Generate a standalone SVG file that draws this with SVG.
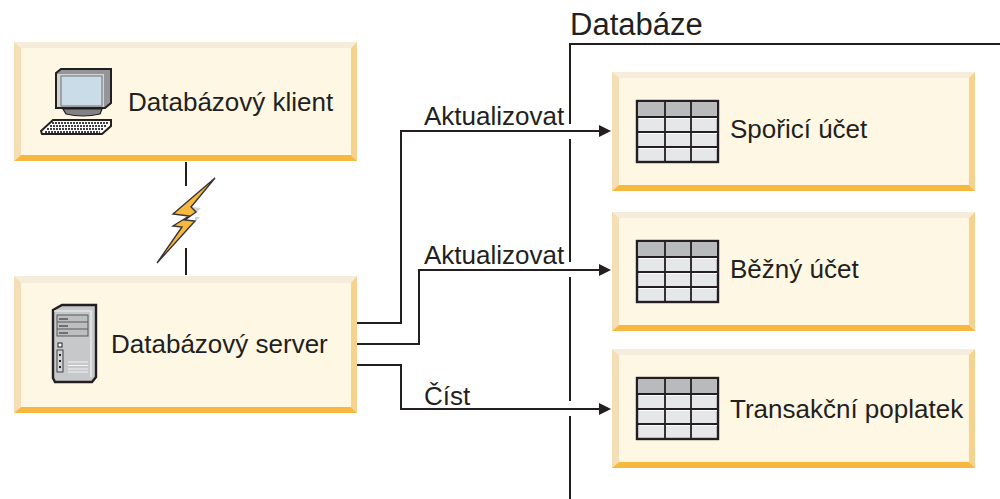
<svg xmlns="http://www.w3.org/2000/svg" xmlns:xlink="http://www.w3.org/1999/xlink" width="1000" height="499" viewBox="0 0 1000 499">
<style>
text{font-family:"Liberation Sans",Arial,sans-serif;font-size:26px;fill:#231f20}
.face{fill:#fef7e4}.top{fill:#f5ecdb}.left{fill:#f5deb5}.right{fill:#f7d28d}.bottom{fill:#f6b83f}
.line{fill:none;stroke:#231f20;stroke-width:2}
</style>
<defs>
<marker id="arrow" markerUnits="userSpaceOnUse" markerWidth="12" markerHeight="14" refX="0" refY="7" orient="auto"><path d="M0 1L12 7L0 13Z" fill="#231f20"/></marker>
<g id="table">
<rect x="0" y="0" width="81" height="61" fill="#e6e7e8" stroke="#231f20" stroke-width="2.400"/>
<rect x="1.500" y="1.500" width="78" height="14" fill="#b9babc"/>
<path d="M2 17.500H80M2 32.500H80M2 47.500H80" stroke="#fff" stroke-width="1" fill="none"/>
<path d="M1 16H80M1 31H80M1 46H80M28 1V60M54 1V60" stroke="#231f20" stroke-width="1.800" fill="none"/>
</g>
</defs>

<g id="connectors">
<path class="line" d="M186 162V186M186 248V275"/>
<path class="line" d="M1000 44H570V124M570 139V262M570 277V401M570 416V499"/>
<path class="line" marker-end="url(#arrow)" d="M357 323H401V131H599"/>
<path class="line" marker-end="url(#arrow)" d="M357 344H419V270H599"/>
<path class="line" marker-end="url(#arrow)" d="M357 365H401V409H599"/>
<g id="bolt">
<path d="M192 207L201 208L196 213ZM195 217L200 217L195 222Z" fill="#d1d3d4"/>
<path d="M215 178L173 214L189 216L173 226L182 227L157 263L195 221L185 220L196 212L191 207Z" fill="#f6b83f" stroke="#3a3637" stroke-width="1.400" stroke-linejoin="miter"/>
</g>
</g>

<g id="client">
<rect class="face" x="14" y="42" width="343" height="119"/>
<path class="top" d="M14 42H357L351 48H21Z"/><path class="left" d="M14 42L21 48V155L14 161Z"/><path class="right" d="M357 42L351 48V155L357 161Z"/><path class="bottom" d="M14 161L21 155H351L357 161Z"/>
<g id="computer">
<path d="M56 73L61 69H111V103L105 108H56Z" fill="#939598" stroke="#231f20" stroke-width="2"/>
<path d="M57 74H104V107H57Z" fill="#d1d3d4"/>
<rect x="61" y="76" width="41" height="30" fill="#c9dce8" stroke="#6d6e71" stroke-width="1"/>
<path d="M63 109H102L100 114Q83 118 66 114Z" fill="#808285" stroke="#231f20" stroke-width="1.200"/>
<path d="M53 120H111V126L102 134H42L41 131Z" fill="#fff" stroke="#231f20" stroke-width="2"/>
<path d="M52 123H108M50 126H106M47 129H103M45 132H100" stroke="#414042" stroke-width="2" stroke-dasharray="2 1" fill="none"/>
</g>
<text x="128" y="111">Databázový klient</text>
</g>

<g id="server">
<rect class="face" x="14" y="276" width="343" height="137"/>
<path class="top" d="M14 276H357L351 283H21Z"/><path class="left" d="M14 276L21 283V407L14 413Z"/><path class="right" d="M357 276L351 283V407L357 413Z"/><path class="bottom" d="M14 413L21 407H351L357 413Z"/>
<g id="tower">
<path d="M53 310L62 305H96V377L92 382H55L53 378Z" fill="#c7c8ca" stroke="#231f20" stroke-width="2.400"/>
<path d="M54 311H91V377" fill="none" stroke="#f1f2f2" stroke-width="1.200"/>
<rect x="57" y="315" width="31" height="21" fill="#bcbec0" stroke="#58595b"/>
<path d="M57 322H88M57 329H88" stroke="#58595b" stroke-width="1.200"/>
<path d="M59 319H68M59 326H68M59 333H68" stroke="#231f20" stroke-width="1"/>
<rect x="58" y="343" width="4" height="4" fill="#fff" stroke="#231f20"/>
<rect x="57" y="350" width="6" height="22" fill="#d1d3d4" stroke="#414042"/>
<path d="M59 355H61M59 361H61M59 367H61" stroke="#231f20" stroke-width="2"/>
<path d="M68 362H88M68 365.500H88M68 369H88M68 372H88" stroke="#f1f2f2" stroke-width="1"/>
</g>
<text x="111" y="353">Databázový server</text>
</g>

<g id="ucet1">
<rect class="face" x="612" y="72" width="363" height="119"/>
<path class="top" d="M612 72H975L969 78H619Z"/><path class="left" d="M612 72L619 78V185L612 191Z"/><path class="right" d="M975 72L969 78V185L975 191Z"/><path class="bottom" d="M612 191L619 185H969L975 191Z"/>
<use xlink:href="#table" href="#table" x="637" y="101"/>
<text x="730" y="138">Spořicí účet</text>
</g>

<g id="ucet2">
<rect class="face" x="612" y="212" width="363" height="119"/>
<path class="top" d="M612 212H975L969 218H619Z"/><path class="left" d="M612 212L619 218V325L612 331Z"/><path class="right" d="M975 212L969 218V325L975 331Z"/><path class="bottom" d="M612 331L619 325H969L975 331Z"/>
<use xlink:href="#table" href="#table" x="637" y="241"/>
<text x="730" y="278">Běžný účet</text>
</g>

<g id="ucet3">
<rect class="face" x="612" y="349" width="363" height="119"/>
<path class="top" d="M612 349H975L969 355H619Z"/><path class="left" d="M612 349L619 355V462L612 468Z"/><path class="right" d="M975 349L969 355V462L975 468Z"/><path class="bottom" d="M612 468L619 462H969L975 468Z"/>
<use xlink:href="#table" href="#table" x="637" y="378"/>
<text x="730" y="418">Transakční poplatek</text>
</g>

<text x="570" y="35" style="font-size:31px">Databáze</text>
<text x="424" y="125">Aktualizovat</text>
<text x="424" y="264">Aktualizovat</text>
<text x="424" y="405">Číst</text>
</svg>
